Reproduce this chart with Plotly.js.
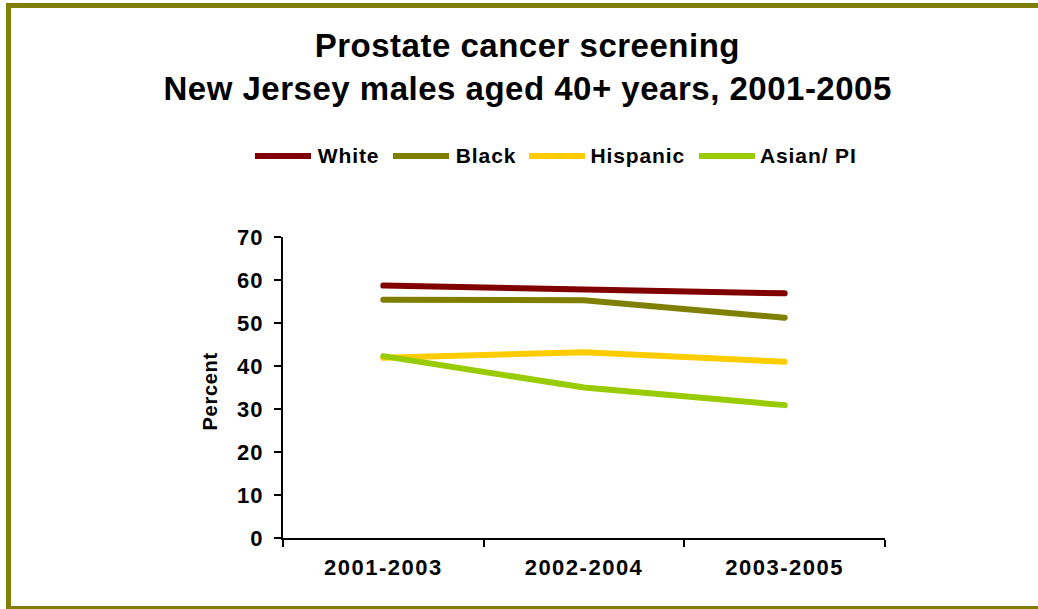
<!DOCTYPE html>
<html>
<head>
<meta charset="utf-8">
<script src="https://cdn.plot.ly/plotly-3.0.1.min.js"></script>
<style>
  html, body { margin: 0; padding: 0; background: #ffffff; overflow: hidden; width: 1038px; height: 609px; }
  #frame { position: absolute; left: 6px; top: 3px; width: 1200px; height: 608px; box-sizing: border-box; border: 5px solid #808000; }
  #chart { position: absolute; left: 0; top: 0; width: 1038px; height: 609px; }
  #chart .js-line { stroke-linecap: round; }
  #chart .xtick text { letter-spacing: 1.5px; }
  #chart .ytick text { letter-spacing: 1px; }
  #chart .annotation[data-index="0"] text,
  #chart .annotation[data-index="1"] text,
  #chart .annotation[data-index="2"] text,
  #chart .annotation[data-index="3"] text { letter-spacing: 0.9px; }
  #chart .annotation[data-index="4"] text,
  #chart .annotation[data-index="5"] text { letter-spacing: 0.5px; }
  #chart .annotation[data-index="6"] text { letter-spacing: 0.7px; }
</style>
</head>
<body>
<div id="frame"></div>
<div id="chart"></div>
<script>
// ---- data ----
const periods = ["2001-2003", "2002-2004", "2003-2005"];
const seriesNames = ["White", "Black", "Hispanic", "Asian/ PI"];
const whiteValues = [58.7, 57.7, 56.9];
const blackValues = [55.4, 55.3, 51.2];
const hispanicValues = [41.9, 43.2, 41.0];
const asianValues = [42.3, 35.0, 30.9];
const titleLines = ["Prostate cancer screening", "New Jersey males aged 40+ years, 2001-2005"];
const yAxisLabel = "Percent";

// ---- styles ----
const seriesColors = ["#800000", "#808000", "#FFCC00", "#99CC00"];
const allValues = [whiteValues, blackValues, hispanicValues, asianValues];
const FONT = "Liberation Sans, Arial, Helvetica, sans-serif";

const W = 1038, H = 609;
const M = {l: 283, r: 153, t: 237, b: 71};
const plotW = W - M.l - M.r, plotH = H - M.t - M.b;
const px2x = X => (X - M.l) / plotW;
const px2y = Y => (H - M.b - Y) / plotH;

const traces = seriesNames.map((name, i) => ({
  type: "scatter",
  mode: "lines",
  name: name,
  x: periods,
  y: allValues[i],
  line: {color: seriesColors[i], width: 6},
  hoverinfo: "x+y+name"
}));

// custom legend (long line samples like the original)
const legendStarts = [254, 392, 528, 698];
const legendY = px2y(156);
const shapes = [];
const annotations = [];
seriesNames.forEach((name, i) => {
  shapes.push({
    type: "line", xref: "paper", yref: "paper",
    x0: px2x(legendStarts[i] + 1), x1: px2x(legendStarts[i] + 57),
    y0: legendY, y1: legendY,
    line: {color: seriesColors[i], width: 6}
  });
  annotations.push({
    xref: "paper", yref: "paper", x: px2x(legendStarts[i] + 64), y: legendY,
    xanchor: "left", yanchor: "middle", showarrow: false,
    text: name, font: {family: FONT, size: 21, color: "#000000", weight: 700}
  });
});

annotations.push({
  xref: "paper", yref: "paper", x: px2x(527), y: px2y(46),
  xanchor: "center", yanchor: "middle", showarrow: false,
  text: titleLines[0], font: {family: FONT, size: 33, color: "#000000", weight: 700}
});
annotations.push({
  xref: "paper", yref: "paper", x: px2x(527), y: px2y(88),
  xanchor: "center", yanchor: "middle", showarrow: false,
  text: titleLines[1], font: {family: FONT, size: 33, color: "#000000", weight: 700}
});
annotations.push({
  xref: "paper", yref: "paper", x: px2x(210), y: px2y(391),
  xanchor: "center", yanchor: "middle", showarrow: false, textangle: -90,
  text: yAxisLabel, font: {family: FONT, size: 20, color: "#000000", weight: 700}
});

const layout = {
  width: W, height: H,
  margin: M,
  paper_bgcolor: "rgba(0,0,0,0)",
  plot_bgcolor: "rgba(0,0,0,0)",
  showlegend: false,
  font: {family: FONT, color: "#000000"},
  xaxis: {
    type: "category",
    range: [-0.5, 2.5],
    tickson: "boundaries",
    ticks: "outside", ticklen: 7, tickwidth: 2, tickcolor: "#000000",
    showline: true, linewidth: 2, linecolor: "#000000",
    showgrid: false, zeroline: false,
    tickfont: {family: FONT, size: 22, color: "#000000", weight: 700},
    ticklabelstandoff: 9,
    fixedrange: true
  },
  yaxis: {
    range: [0, 70], dtick: 10, tick0: 0,
    ticks: "outside", ticklen: 7, tickwidth: 2, tickcolor: "#000000",
    showline: true, linewidth: 2, linecolor: "#000000",
    showgrid: false, zeroline: false,
    tickfont: {family: FONT, size: 22, color: "#000000", weight: 700},
    ticklabelstandoff: 6,
    fixedrange: true
  },
  shapes: shapes,
  annotations: annotations
};

Plotly.newPlot("chart", traces, layout, {displayModeBar: false});
</script>
</body>
</html>
